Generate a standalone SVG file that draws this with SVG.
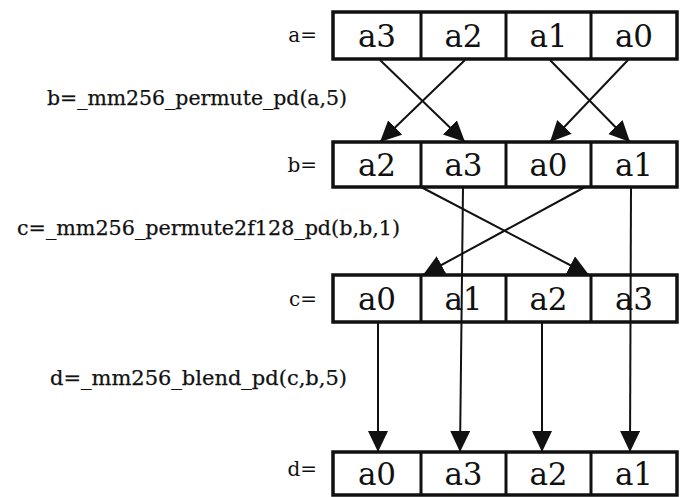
<svg xmlns="http://www.w3.org/2000/svg" width="684" height="497" viewBox="0 0 684 497">
  <style>
    .box { fill: #fff; stroke: #111; stroke-width: 3.5; }
    .sep { stroke: #111; stroke-width: 3; }
    .cell { font-family: "DejaVu Serif", "Liberation Serif", serif; font-size: 31px; fill: #111; text-anchor: middle; }
    .lbl { font-family: "DejaVu Serif", "Liberation Serif", serif; font-size: 20px; fill: #111; text-anchor: end; }
    .op { font-family: "DejaVu Serif", "Liberation Serif", serif; font-size: 20px; fill: #111; stroke: #111; stroke-width: 0.25; }
    .wire { stroke: #111; stroke-width: 2; fill: none; marker-end: url(#head); }
  </style>
  <defs>
    <marker id="head" markerUnits="userSpaceOnUse" markerWidth="24" markerHeight="22" refX="21" refY="10" orient="auto">
      <path d="M0,0 L21,10 L0,20 z" fill="#111"/>
    </marker>
  </defs>
  <rect width="684" height="497" fill="#fff"/>

  <!-- operation captions -->
  <text class="op" x="47" y="105" textLength="300" lengthAdjust="spacingAndGlyphs">b=_mm256_permute_pd(a,5)</text>
  <text class="op" x="17" y="235" textLength="383" lengthAdjust="spacingAndGlyphs">c=_mm256_permute2f128_pd(b,b,1)</text>
  <text class="op" x="50" y="385" textLength="297" lengthAdjust="spacingAndGlyphs">d=_mm256_blend_pd(c,b,5)</text>

  <!-- connectors -->
  <g id="connectors">
    <line class="wire" x1="380" y1="60" x2="465" y2="142"/>
    <line class="wire" x1="465" y1="60" x2="380" y2="142"/>
    <line class="wire" x1="550" y1="60" x2="630" y2="142"/>
    <line class="wire" x1="628" y1="60" x2="550" y2="142"/>
    <line class="wire" x1="421" y1="187" x2="589" y2="275"/>
    <line class="wire" x1="585" y1="187" x2="423" y2="275"/>
    <line class="wire" x1="378" y1="322" x2="378" y2="452"/>
    <line class="wire" x1="542" y1="322" x2="542" y2="452"/>
  </g>

  <!-- register a -->
  <g id="reg-a">
    <text class="lbl" x="317" y="42">a=</text>
    <rect class="box" x="333" y="12" width="344" height="47"/>
    <line class="sep" x1="421" y1="12" x2="421" y2="59"/>
    <line class="sep" x1="506" y1="12" x2="506" y2="59"/>
    <line class="sep" x1="591" y1="12" x2="591" y2="59"/>
    <text class="cell" x="377" y="47">a3</text>
    <text class="cell" x="463.5" y="47">a2</text>
    <text class="cell" x="548.5" y="47">a1</text>
    <text class="cell" x="634" y="47">a0</text>
  </g>

  <!-- register b -->
  <g id="reg-b">
    <text class="lbl" x="317" y="172">b=</text>
    <rect class="box" x="333" y="142" width="344" height="45"/>
    <line class="sep" x1="421" y1="142" x2="421" y2="187"/>
    <line class="sep" x1="506" y1="142" x2="506" y2="187"/>
    <line class="sep" x1="591" y1="142" x2="591" y2="187"/>
    <text class="cell" x="377" y="176">a2</text>
    <text class="cell" x="463.5" y="176">a3</text>
    <text class="cell" x="548.5" y="176">a0</text>
    <text class="cell" x="634" y="176">a1</text>
  </g>

  <!-- register c -->
  <g id="reg-c">
    <text class="lbl" x="317" y="306">c=</text>
    <rect class="box" x="333" y="275" width="344" height="47"/>
    <line class="sep" x1="421" y1="275" x2="421" y2="322"/>
    <line class="sep" x1="506" y1="275" x2="506" y2="322"/>
    <line class="sep" x1="591" y1="275" x2="591" y2="322"/>
    <text class="cell" x="377" y="310">a0</text>
    <text class="cell" x="463.5" y="310">a1</text>
    <text class="cell" x="548.5" y="310">a2</text>
    <text class="cell" x="634" y="310">a3</text>
  </g>

  <!-- pass-through lines from b to d cross over register c -->
  <g id="passthrough">
    <line class="wire" x1="463" y1="187" x2="460" y2="452"/>
    <line class="wire" x1="631" y1="187" x2="630" y2="452"/>
  </g>

  <!-- register d -->
  <g id="reg-d">
    <text class="lbl" x="317" y="476">d=</text>
    <rect class="box" x="333" y="452" width="344" height="43"/>
    <line class="sep" x1="421" y1="452" x2="421" y2="495"/>
    <line class="sep" x1="506" y1="452" x2="506" y2="495"/>
    <line class="sep" x1="591" y1="452" x2="591" y2="495"/>
    <text class="cell" x="377" y="485">a0</text>
    <text class="cell" x="463.5" y="485">a3</text>
    <text class="cell" x="548.5" y="485">a2</text>
    <text class="cell" x="634" y="485">a1</text>
  </g>
</svg>
